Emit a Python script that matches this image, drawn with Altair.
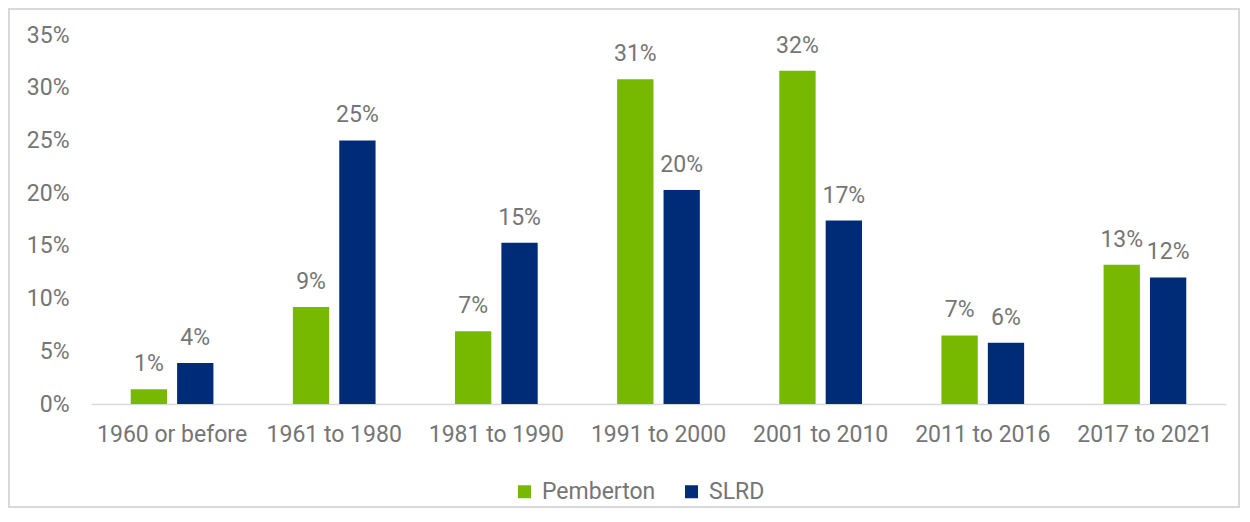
import altair as alt
import pandas as pd

categories = ["1960 or before", "1961 to 1980", "1981 to 1990", "1991 to 2000",
              "2001 to 2010", "2011 to 2016", "2017 to 2021"]
pemberton = [1.4, 9.2, 6.9, 30.8, 31.6, 6.5, 13.2]
slrd = [3.9, 25.0, 15.3, 20.3, 17.4, 5.8, 12.0]
pemberton_labels = ["1%", "9%", "7%", "31%", "32%", "7%", "13%"]
slrd_labels = ["4%", "25%", "15%", "20%", "17%", "6%", "12%"]
series = ["Pemberton", "SLRD"]
colors = ["#77b800", "#002c77"]
y_ticks = [0, 5, 10, 15, 20, 25, 30, 35]

rows = []
for c, v, l in zip(categories, pemberton, pemberton_labels):
    rows.append({"category": c, "series": "Pemberton", "value": v, "label": l})
for c, v, l in zip(categories, slrd, slrd_labels):
    rows.append({"category": c, "series": "SLRD", "value": v, "label": l})
df = pd.DataFrame(rows)

FONT = "Roboto"
GREY = "#757575"
FS = 23

x = alt.X("category:N", sort=categories, title=None,
          scale=alt.Scale(paddingInner=0.49, paddingOuter=0.245),
          axis=alt.Axis(labelAngle=0, ticks=False, domainColor="#d9d9d9", domainWidth=1.5,
                        labelFont=FONT, labelFontSize=FS, labelColor=GREY, labelPadding=19,
                        grid=False))
xo = alt.XOffset("series:N", sort=series, scale=alt.Scale(paddingInner=0.217))
y = alt.Y("value:Q", title=None,
          scale=alt.Scale(domain=[0, 35], nice=False),
          axis=alt.Axis(values=y_ticks, labelExpr="datum.value + '%'", ticks=False, domain=False,
                        grid=False, labelFont=FONT, labelFontSize=FS, labelColor=GREY,
                        labelPadding=22))

bars = alt.Chart(df).mark_bar().encode(
    x=x, xOffset=xo, y=y,
    color=alt.Color("series:N", sort=series, title=None,
                    scale=alt.Scale(domain=series, range=colors),
                    legend=alt.Legend(orient="none", legendX=422, legendY=445, direction="horizontal",
                                      symbolType="square", symbolSize=169, symbolStrokeWidth=0,
                                      labelFont=FONT, labelFontSize=FS, labelColor=GREY,
                                      labelOffset=6, columnPadding=24, padding=0)),
)

text = alt.Chart(df).mark_text(font=FONT, fontSize=FS, color=GREY, dy=-18,
                               baseline="alphabetic").encode(
    x=alt.X("category:N", sort=categories), xOffset=alt.XOffset("series:N", sort=series),
    y="value:Q", text="label:N",
)

border = alt.Chart(pd.DataFrame({"k": [0]})).mark_rect(
    fill=None, stroke="#d9d9d9", strokeWidth=2
).encode(x=alt.value(-82), x2=alt.value(1148), y=alt.value(-26), y2=alt.value(472))

chart = alt.layer(border, bars, text).properties(
    width=1135, height=369,
    autosize=alt.AutoSizeParams(type="none"),
    padding={"left": 83, "top": 27, "right": 14, "bottom": 104},
).configure_view(stroke=None)

chart.save("out.html", embed_options={"renderer": "svg", "actions": False})
